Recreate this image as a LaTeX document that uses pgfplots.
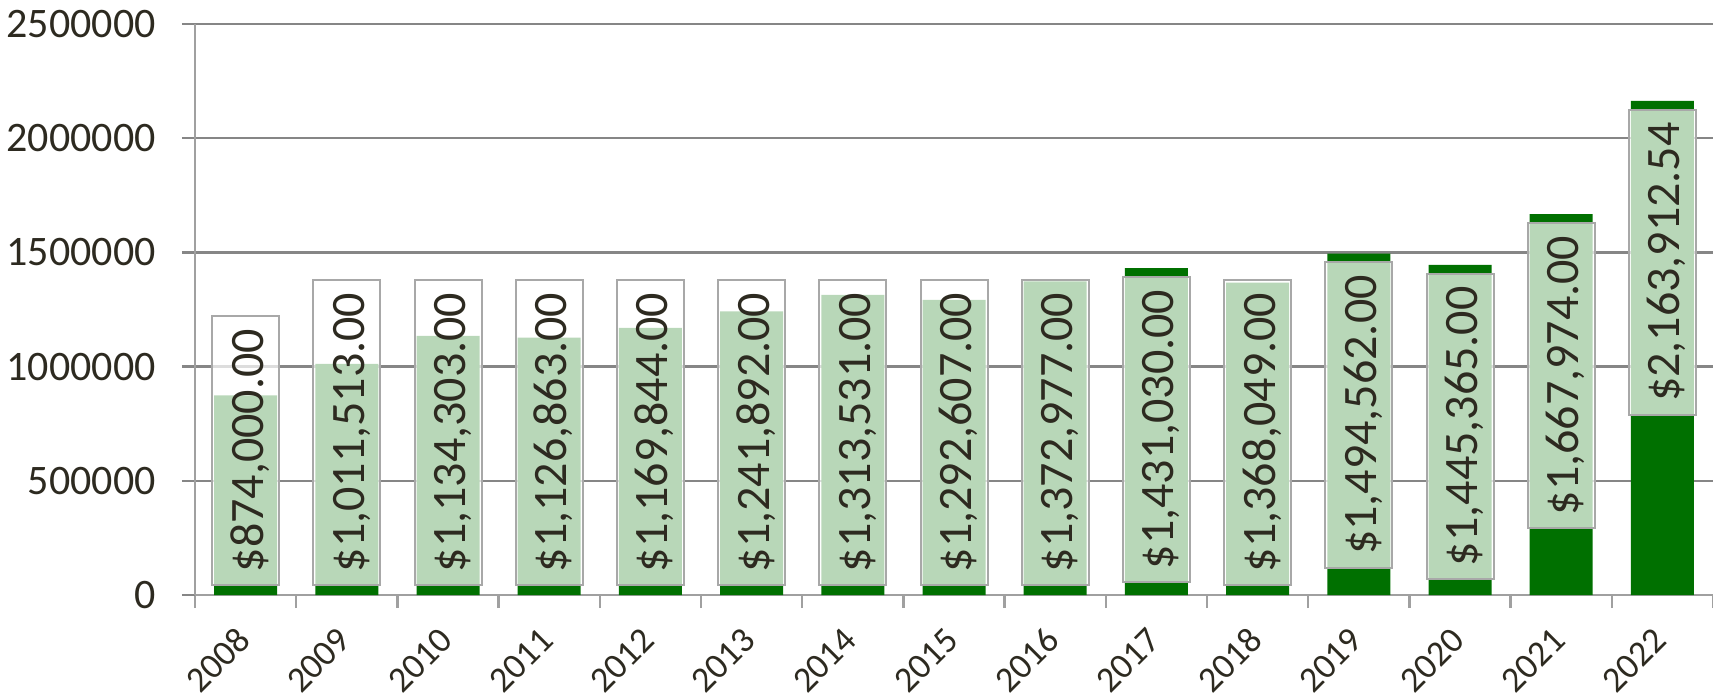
\documentclass[border=0pt]{standalone}
\usepackage{fontspec}
\setmainfont{Carlito}
\usepackage{pgfplots}
\usepackage{pgfplotstable}
\pgfplotsset{compat=1.18}
\definecolor{dkgreen}{RGB}{0,112,0}
\definecolor{txt}{RGB}{45,42,32}
\definecolor{gridc}{RGB}{134,134,134}
\definecolor{axl}{RGB}{160,160,160}
\definecolor{boxgray}{RGB}{168,168,168}

\pgfplotstableread{
x y
0 874000
1 1011513
2 1134303
3 1126863
4 1169844
5 1241892
6 1313531
7 1292607
8 1372977
9 1431030
10 1368049
11 1494562
12 1445365
13 1667974
14 2163912.54
}\bars

\pgfplotstableread{
x y lab
0 38000 {\$874,000.00}
1 38000 {\$1,011,513.00}
2 38000 {\$1,134,303.00}
3 38000 {\$1,126,863.00}
4 38000 {\$1,169,844.00}
5 38000 {\$1,241,892.00}
6 38000 {\$1,313,531.00}
7 38000 {\$1,292,607.00}
8 38000 {\$1,372,977.00}
10 38000 {\$1,368,049.00}
}\lowlabels

\pgfplotstableread{
x y lab
9 1397030 {\$1,431,030.00}
11 1460562 {\$1,494,562.00}
12 1411365 {\$1,445,365.00}
13 1633974 {\$1,667,974.00}
14 2129912.54 {\$2,163,912.54}
}\toplabels

\tikzset{lbl/.style={font=\fontsize{24}{24}\selectfont, text=txt, rotate=90,
  fill=white, fill opacity=0.72, text opacity=1, draw=boxgray, draw opacity=1,
  line width=1pt, inner xsep=6.5pt, inner ysep=8pt, text height=17.5pt, text depth=0pt}}

\begin{document}
\begin{tikzpicture}
\begin{axis}[
  scale only axis, width=759pt, height=285.5pt,
  xmin=-0.5, xmax=14.5, ymin=0, ymax=2500000,
  axis lines*=left,
  axis line style={draw=axl, line width=1.2pt, -},
  xtick={0,...,14},
  xticklabels={2008,2009,2010,2011,2012,2013,2014,2015,2016,2017,2018,2019,2020,2021,2022},
  minor xtick={-0.5,0.5,...,14.5},
  ytick={0,500000,1000000,1500000,2000000,2500000},
  yticklabels={0,500000,1000000,1500000,2000000,2500000},
  scaled y ticks=false,
  tick align=outside,
  major tick length=6.5pt, minor tick length=6.5pt,
  major x tick style={draw=none},
  minor x tick style={draw=axl, line width=1.2pt},
  y tick style={draw=gridc, line width=1.2pt},
  ymajorgrids, grid style={draw=gridc, line width=1.2pt},
  /pgf/number format/assume math mode=true,
  yticklabel style={font=\fontsize{21}{21}\selectfont, text=txt, anchor=east, inner sep=0pt, xshift=-13pt},
  xticklabel style={font=\fontsize{18}{18}\selectfont, text=txt, inner sep=0pt, xshift=-1pt, yshift=-13pt, rotate=45, anchor=east},
  clip=false,
]
\addplot[ybar, bar width=0.6225, fill=dkgreen, draw=none] table[x=x,y=y]{\bars};
\addplot[draw=none, mark=none, nodes near coords, point meta=explicit symbolic,
  every node near coord/.append style={lbl, anchor=west}] table[x=x,y=y,meta=lab]{\lowlabels};
\addplot[draw=none, mark=none, nodes near coords, point meta=explicit symbolic,
  every node near coord/.append style={lbl, anchor=east}] table[x=x,y=y,meta=lab]{\toplabels};
\end{axis}
\pgfresetboundingbox
\path[use as bounding box] ([shift={(-97.5pt,-51pt)}]current axis.south west) rectangle ([shift={(0pt,12pt)}]current axis.north east);
\end{tikzpicture}
\end{document}
